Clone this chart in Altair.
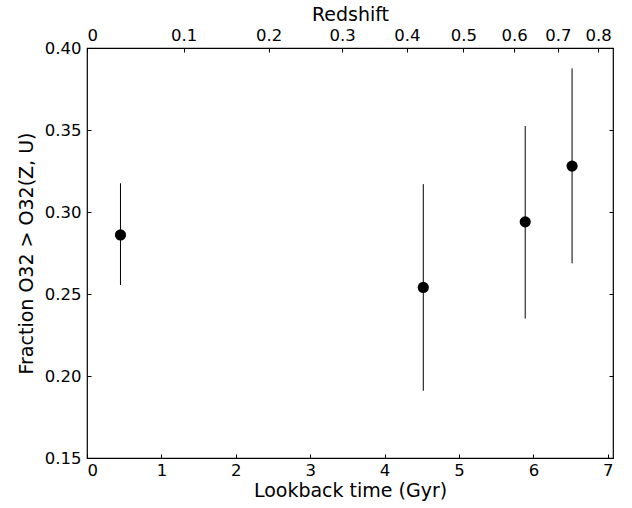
import altair as alt
import pandas as pd

# Data
lookback = [0.45, 4.52, 5.89, 6.52]
fraction = [0.286, 0.254, 0.294, 0.328]
err_low = [0.2555, 0.191, 0.235, 0.2687]
err_high = [0.3175, 0.317, 0.3524, 0.3876]

# Top axis: redshift tick labels and their lookback-time positions
redshift_labels = ["0", "0.1", "0.2", "0.3", "0.4", "0.5", "0.6", "0.7", "0.8"]
redshift_pos = [0.0, 1.30, 2.44, 3.43, 4.30, 5.06, 5.74, 6.33, 6.87]

x_ticks = [0, 1, 2, 3, 4, 5, 6, 7]
y_ticks = [0.15, 0.20, 0.25, 0.30, 0.35, 0.40]

X_DOMAIN = [0, 7.07]
Y_DOMAIN = [0.15, 0.40]
FONT = "DejaVu Sans"
TICK = 4

df = pd.DataFrame({"t": lookback, "f": fraction, "lo": err_low, "hi": err_high})
top_df = pd.DataFrame({"t": redshift_pos, "f": [0.15] * len(redshift_pos)})

xscale = alt.Scale(domain=X_DOMAIN, nice=False, zero=False)
yscale = alt.Scale(domain=Y_DOMAIN, nice=False, zero=False)

x_axis = alt.Axis(values=x_ticks, format="d", orient="bottom", offset=-TICK, tickSize=TICK,
                  domain=False, grid=False, labelPadding=4, title="Lookback time (Gyr)",
                  titlePadding=3)
y_axis = alt.Axis(values=y_ticks, format=".2f", orient="left", offset=-TICK, tickSize=TICK,
                  domain=False, grid=False, labelPadding=6, title="Fraction O32 > O32(Z, U)",
                  titlePadding=8)

bars = alt.Chart(df).mark_rule(color="black", strokeWidth=1).encode(
    x=alt.X("t:Q", scale=xscale, axis=x_axis),
    y=alt.Y("lo:Q", scale=yscale, axis=y_axis),
    y2="hi:Q",
)
points = alt.Chart(df).mark_circle(color="black", size=125, opacity=1).encode(
    x=alt.X("t:Q", scale=xscale, axis=x_axis),
    y=alt.Y("f:Q", scale=yscale, axis=y_axis),
)

arr_pos = "[" + ",".join(str(v) for v in redshift_pos) + "]"
arr_lab = "[" + ",".join("'" + s + "'" for s in redshift_labels) + "]"
label_expr = f"{arr_lab}[indexof({arr_pos}, datum.value)]"

top = alt.Chart(top_df).mark_point(opacity=0).encode(
    x=alt.X("t:Q", scale=xscale,
            axis=alt.Axis(values=redshift_pos, orient="top", offset=-TICK, tickSize=TICK,
                          domain=False, grid=False, labelPadding=5, labelExpr=label_expr,
                          title="Redshift", titlePadding=3)),
    y=alt.Y("f:Q", scale=yscale,
            axis=alt.Axis(values=y_ticks, orient="right", offset=-TICK, tickSize=TICK,
                          domain=False, grid=False, labels=False, title=None)),
)

chart = alt.layer(alt.layer(bars, points), top).resolve_scale(
    x="independent", y="independent"
).properties(
    width=526, height=410,
    autosize=alt.AutoSizeParams(type="none"),
    padding={"left": 87, "top": 48, "right": 19, "bottom": 50},
    background="white",
).configure_view(
    stroke="black", strokeWidth=1.2
).configure_axis(
    labelFont=FONT, titleFont=FONT, labelFontSize=16.5, titleFontSize=19,
    titleFontWeight="normal", labelColor="black", titleColor="black",
    tickColor="black", tickWidth=1,
)

chart.save("out.html", embed_options={"renderer": "svg", "actions": False})
